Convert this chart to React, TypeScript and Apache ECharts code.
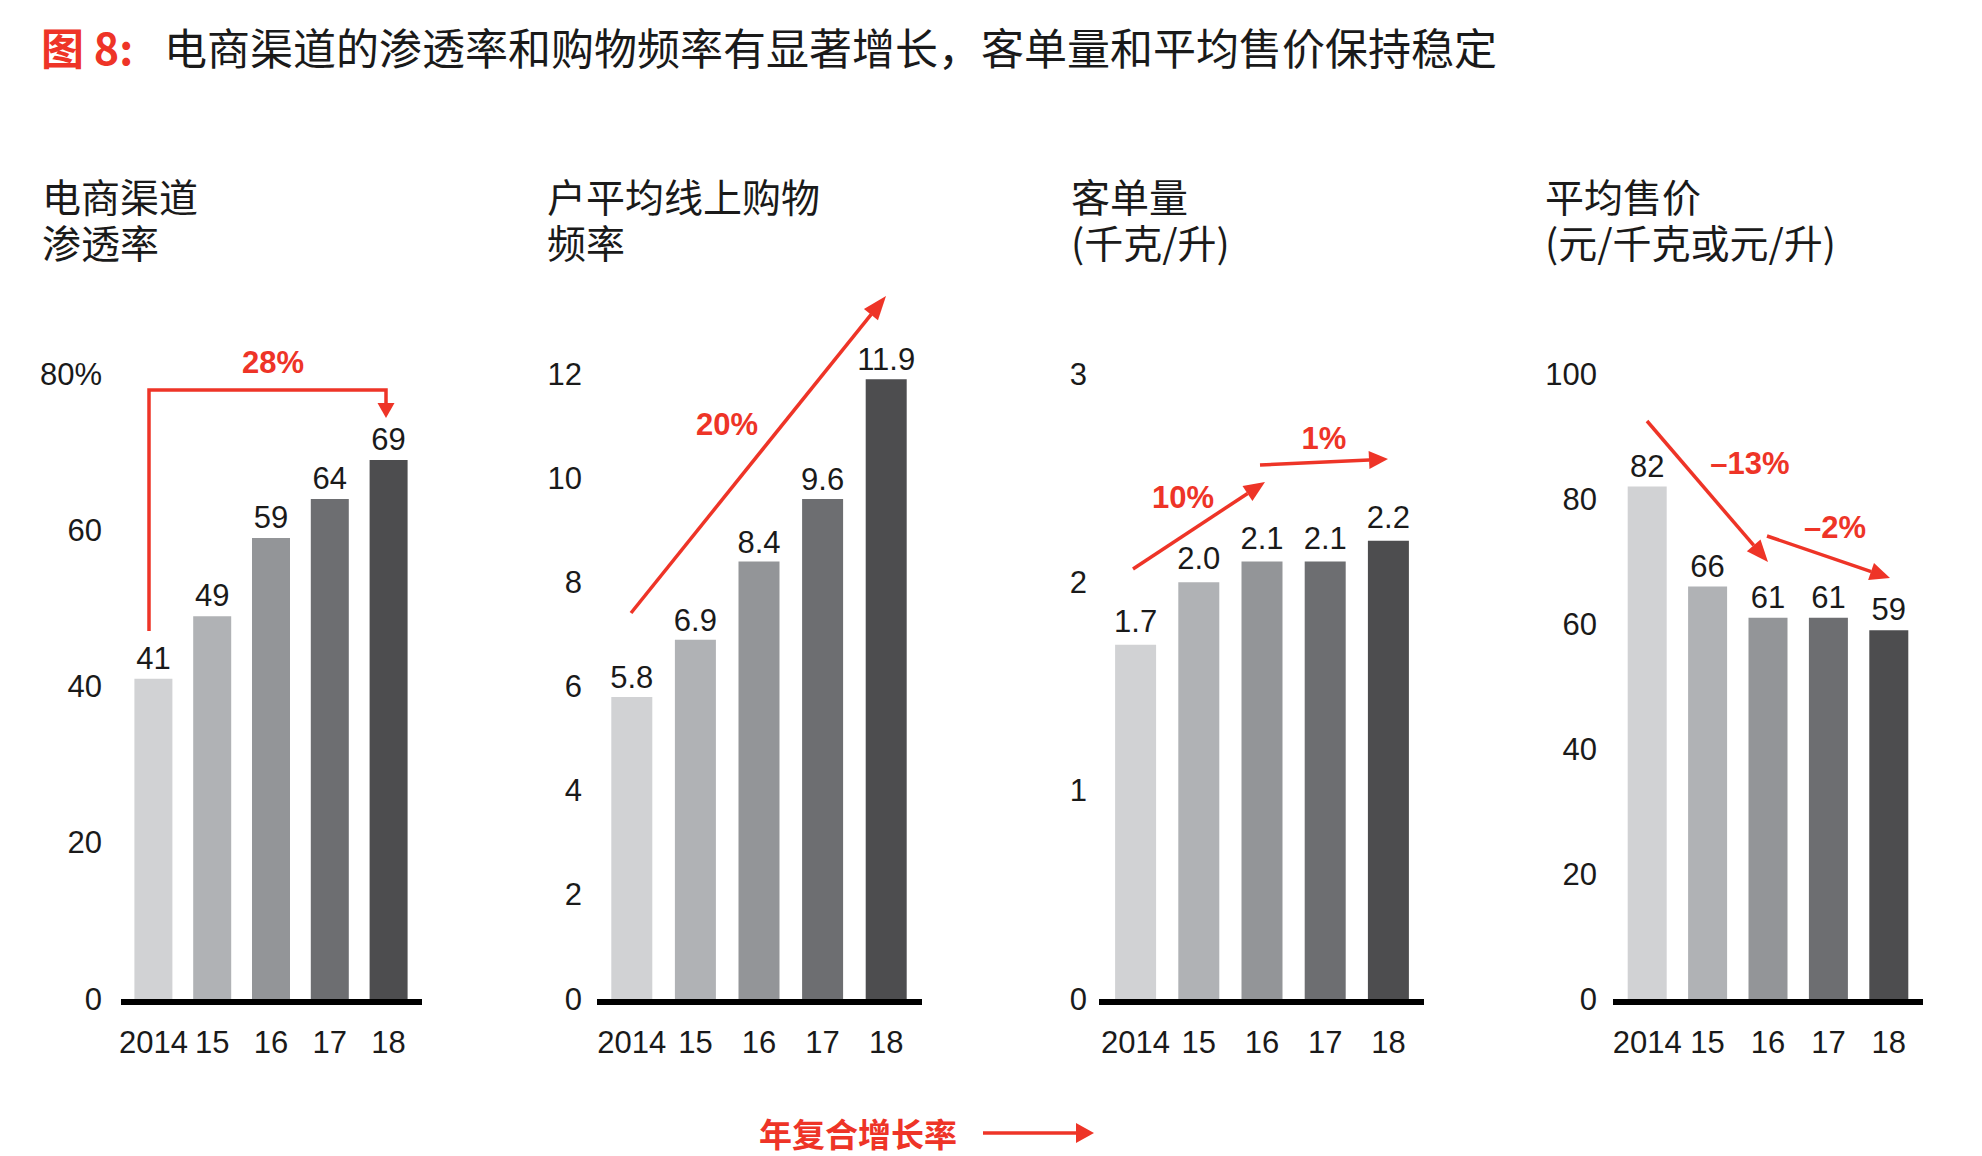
import React, { useEffect, useRef } from "react";
import * as echarts from "echarts";

// Chart data
const years = ["2014", "15", "16", "17", "18"];
const penetration = [41, 49, 59, 64, 69];
const frequency = [5.8, 6.9, 8.4, 9.6, 11.9];
const basketVolume = [1.7, 2.0, 2.1, 2.1, 2.2];
const avgPrice = [82, 66, 61, 61, 59];

const penetrationTicks = { max: 80, interval: 20 };
const frequencyTicks = { max: 12, interval: 2 };
const volumeTicks = { max: 3, interval: 1 };
const priceTicks = { max: 100, interval: 20 };

const titleLead = "图 8:";
const titleText = "电商渠道的渗透率和购物频率有显著增长，客单量和平均售价保持稳定";
const panelTitles = [
  ["电商渠道", "渗透率"],
  ["户平均线上购物", "频率"],
  ["客单量", "(千克/升)"],
  ["平均售价", "(元/千克或元/升)"],
];
const growthLabels = ["28%", "20%", "10%", "1%", "–13%", "–2%"];
const footnote = "年复合增长率";

const barColors = ["#D1D2D4", "#B0B2B5", "#939598", "#6D6E71", "#4D4D4F"];
const RED = "#EE3427";
const INK = "#1a1a1a";
const NUM_FONT = "'Liberation Sans', Arial, sans-serif";
const CJK_FONT = "'Noto Sans CJK SC', 'Liberation Sans', sans-serif";

const Y0 = 999;
const YTOP = 374;

const panels = [
  { left: 124, width: 294, barWidth: 38, labelMargin: 22, base: [121, 422], dist: 5, titleX: 42 },
  { left: 600, width: 318, barWidth: 41, labelMargin: 18, base: [597, 922], dist: 4, titleX: 547 },
  { left: 1104, width: 316, barWidth: 41, labelMargin: 17, base: [1099, 1424], dist: 8, titleX: 1071 },
  { left: 1617, width: 302, barWidth: 39, labelMargin: 20, base: [1613, 1923], dist: 5, titleX: 1545 },
];

function arrowHead(x1: number, y1: number, x2: number, y2: number, len: number, half: number) {
  const dx = x2 - x1;
  const dy = y2 - y1;
  const d = Math.sqrt(dx * dx + dy * dy);
  const ux = dx / d;
  const uy = dy / d;
  const bx = x2 - ux * len;
  const by = y2 - uy * len;
  return {
    base: [bx, by],
    head: {
      type: "polygon",
      shape: {
        points: [
          [x2, y2],
          [bx - uy * half, by + ux * half],
          [bx + uy * half, by - ux * half],
        ],
      },
      style: { fill: RED },
      silent: true,
    },
  };
}

function arrow(x1: number, y1: number, x2: number, y2: number, len = 20, half = 9, lw = 3.5) {
  const h = arrowHead(x1, y1, x2, y2, len, half);
  return [
    {
      type: "line",
      shape: { x1, y1, x2: h.base[0] + (x2 - x1) * 0.001, y2: h.base[1] + (y2 - y1) * 0.001 },
      style: { stroke: RED, lineWidth: lw },
      silent: true,
    },
    h.head,
  ];
}

function txt(text: string, x: number, y: number, size: number, opts: any = {}) {
  return {
    type: "text",
    x,
    y,
    silent: true,
    style: {
      text,
      fontSize: size,
      lineHeight: opts.lineHeight || size,
      fontFamily: opts.family || CJK_FONT,
      fontWeight: opts.weight || "normal",
      fill: opts.color || INK,
      textAlign: opts.align || "left",
      align: opts.align || "left",
      textVerticalAlign: "middle",
      verticalAlign: "middle",
    },
  };
}

export default function App() {
  const ref = useRef<HTMLDivElement>(null);

  useEffect(() => {
    if (!ref.current) return;
    const chart = echarts.init(ref.current, undefined, { renderer: "svg" });

    const seriesData = [penetration, frequency, basketVolume, avgPrice];
    const ticks = [penetrationTicks, frequencyTicks, volumeTicks, priceTicks];
    const decimals = [0, 1, 1, 0];

    const grids = panels.map((p) => ({
      left: p.left,
      width: p.width,
      top: YTOP,
      height: Y0 - YTOP,
      containLabel: false,
      outerBoundsMode: "none",
    }));

    const xAxes = panels.map((p, i) => ({
      type: "category",
      gridIndex: i,
      data: years,
      axisLine: { show: false },
      axisTick: { show: false },
      axisLabel: {
        margin: 28,
        fontSize: 31,
        fontFamily: NUM_FONT,
        color: INK,
        interval: 0,
      },
    }));

    const yAxes = panels.map((p, i) => ({
      type: "value",
      gridIndex: i,
      min: 0,
      max: ticks[i].max,
      interval: ticks[i].interval,
      splitLine: { show: false },
      axisLine: { show: false },
      axisTick: { show: false },
      axisLabel: {
        margin: p.labelMargin,
        fontSize: 31,
        fontFamily: NUM_FONT,
        color: INK,
        formatter: (v: number) => (i === 0 && v === ticks[i].max ? v + "%" : String(v)),
      },
    }));

    const series = panels.map((p, i) => ({
      type: "bar",
      xAxisIndex: i,
      yAxisIndex: i,
      barWidth: p.barWidth,
      data: seriesData[i].map((v, j) => ({ value: v, itemStyle: { color: barColors[j] } })),
      label: {
        show: true,
        position: "top",
        distance: p.dist,
        fontSize: 31,
        fontFamily: NUM_FONT,
        color: INK,
        formatter: (prm: any) => Number(prm.value).toFixed(decimals[i]),
      },
    }));

    const graphics: any[] = [];

    // Headline
    graphics.push(txt(titleLead, 41, 46, 43, { color: RED, weight: "bold" }));
    graphics.push(txt(titleText, 164, 46, 43, { color: INK }));

    // Panel headings (two lines each)
    panels.forEach((p, i) => {
      graphics.push(txt(panelTitles[i].join("\n"), p.titleX, 218, 39, { lineHeight: 46 }));
    });

    // Baselines
    panels.forEach((p) => {
      graphics.push({
        type: "line",
        silent: true,
        shape: { x1: p.base[0], y1: Y0 + 3, x2: p.base[1], y2: Y0 + 3 },
        style: { stroke: "#000", lineWidth: 6 },
      });
    });

    // Growth annotations
    graphics.push({
      type: "polyline",
      silent: true,
      shape: { points: [[149, 631], [149, 390], [386, 390], [386, 404]] },
      style: { stroke: RED, lineWidth: 3.5, fill: null },
    });
    graphics.push(arrowHead(386, 390, 386, 418, 15, 8.5).head);
    graphics.push(...arrow(631, 613, 886, 296, 24, 9));
    graphics.push(...arrow(1133, 569, 1265, 482, 21, 9));
    graphics.push(...arrow(1260, 465, 1388, 459, 19, 9));
    graphics.push(...arrow(1647, 421, 1768, 562, 22, 9));
    graphics.push(...arrow(1767, 536, 1890, 578, 20, 9));

    const lblOpts = { color: RED, weight: "bold", family: NUM_FONT, align: "center" };
    graphics.push(txt(growthLabels[0], 273, 362, 31, lblOpts));
    graphics.push(txt(growthLabels[1], 727, 424, 31, lblOpts));
    graphics.push(txt(growthLabels[2], 1183, 497, 31, lblOpts));
    graphics.push(txt(growthLabels[3], 1324, 438, 31, lblOpts));
    graphics.push(txt(growthLabels[4], 1750, 463, 31, lblOpts));
    graphics.push(txt(growthLabels[5], 1835, 527, 31, lblOpts));

    // Footnote legend
    graphics.push(txt(footnote, 858, 1133, 33, { color: RED, weight: "bold", align: "center" }));
    graphics.push(...arrow(983, 1133, 1094, 1133, 18, 10, 3.5));

    chart.setOption({
      animation: false,
      backgroundColor: "#ffffff",
      grid: grids,
      xAxis: xAxes,
      yAxis: yAxes,
      series,
      graphic: { elements: graphics },
    });

    return () => chart.dispose();
  }, []);

  return (
    <div
      ref={ref}
      style={{ position: "fixed", left: 0, top: 0, width: 1982, height: 1156, background: "#fff" }}
    />
  );
}
